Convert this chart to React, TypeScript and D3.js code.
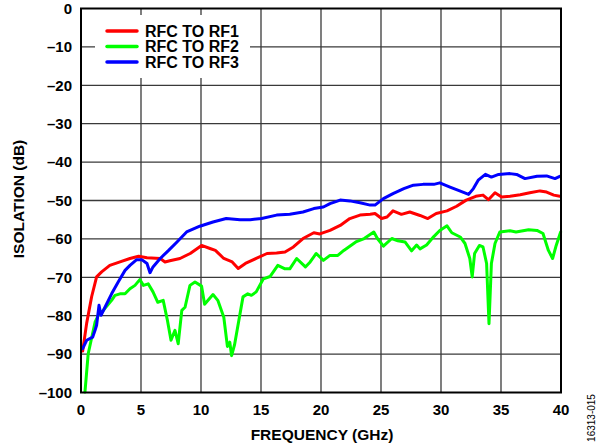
import * as d3 from "d3";

// frequency (GHz), isolation (dB)
const rf1: [number, number][] = [
  [0.14, -89.2], [0.47, -82], [0.89, -75], [1.3, -69.9], [1.72, -68.6], [2.4, -66.9], [3.25, -66],
  [4.08, -65.1], [4.8, -64.5], [5.5, -64.9], [6.6, -65.1], [7, -66], [7.4, -65.7], [8.25, -65.1],
  [9.1, -63.8], [10.05, -61.7], [10.75, -62.5], [11.2, -63], [11.9, -65.1], [12.6, -66], [13.1, -67.7],
  [13.7, -66.4], [14.6, -65.1], [15.5, -63.8], [16.3, -63.7], [17, -63.4], [17.7, -62.1], [18.5, -59.9],
  [19.4, -58.4], [19.9, -58.7], [20.75, -57.8], [21.6, -56.5], [22.4, -54.7], [23.25, -53.8],
  [24.1, -53.6], [24.5, -53.4], [25.05, -54.7], [25.5, -54.3], [26, -52.7], [26.7, -53.6], [27.4, -53],
  [28.25, -53.9], [28.9, -54.7], [29.6, -53.4], [30.5, -52.7], [31.3, -51.5], [32.1, -49.9],
  [32.9, -48.9], [33.5, -48.6], [33.95, -49.8], [34.5, -48], [35.05, -49.1], [35.75, -48.9],
  [36.6, -48.5], [37.4, -48], [38.25, -47.5], [38.8, -47.8], [39.4, -48.6], [39.9, -48.9],
];

const rf2: [number, number][] = [
  [0.33, -99.9], [0.6, -89.9], [0.9, -85.6], [1.17, -81.7], [1.44, -79.9], [1.86, -78.6], [2.55, -76],
  [2.83, -74.7], [3.25, -74.3], [3.67, -74.3], [4.08, -73], [4.5, -72.1], [4.9, -70.6], [5.2, -72.1],
  [5.6, -71.7], [6, -73.8], [6.4, -76.5], [6.85, -76], [7.2, -81.2], [7.5, -86.4], [7.83, -83.8],
  [8.1, -87.3], [8.4, -78.6], [8.67, -77.8], [9.08, -72.1], [9.5, -71.2], [10.05, -72.3], [10.3, -77],
  [11, -74.5], [11.4, -76], [11.9, -80.4], [12.2, -88], [12.4, -86.9], [12.55, -90.4], [12.8, -87.5],
  [13.5, -75.1], [13.9, -74.3], [14.2, -74.7], [14.6, -73.8], [15.2, -70.4], [15.75, -69.8],
  [16.4, -66.9], [17, -67.8], [17.4, -67.8], [17.97, -65.1], [18.7, -67.3], [19.1, -66], [19.6, -63.8],
  [20.2, -65.6], [20.75, -64.3], [21.4, -64.3], [21.9, -63], [22.9, -60.8], [23.6, -59.9],
  [24.4, -58.2], [24.7, -59.9], [25.2, -61.9], [25.9, -59.9], [26.4, -60.5], [27, -60.8],
  [27.55, -63.1], [27.97, -61.6], [28.25, -62.6], [28.8, -61.6], [29.4, -59.4], [29.9, -57.8],
  [30.5, -56.6], [30.9, -58.4], [31.6, -59.5], [32, -61.2], [32.4, -65.1], [32.6, -69.9], [32.8, -63.8],
  [33.2, -61.7], [33.5, -62.1], [33.8, -66.4], [34, -82.1], [34.2, -66.4], [34.5, -61.2], [34.9, -58.2],
  [35.75, -57.9], [36.25, -58.2], [36.6, -58], [37.3, -57.6], [38, -57.8], [38.5, -58.6], [38.95, -63],
  [39.3, -65.1], [39.6, -61.7], [39.97, -58.2],
];

const rf3: [number, number][] = [
  [0.14, -88.6], [0.47, -86.4], [0.97, -85.6], [1.17, -83.8], [1.3, -82.5], [1.5, -77.3], [1.67, -79.9],
  [2, -77.8], [2.55, -74.3], [3.1, -71.2], [3.67, -68.2], [4.08, -66.9], [4.64, -65.4], [5.06, -65.4],
  [5.5, -66.4], [5.75, -68.8], [6, -67.3], [6.6, -65.1], [7.3, -63], [8, -60.8], [8.8, -58.2],
  [9.9, -56.7], [11, -55.6], [12.1, -54.7], [13.25, -55], [14.1, -55], [15.05, -54.7], [16.3, -53.8],
  [17.4, -53.6], [18.5, -53], [19.4, -52.1], [20.2, -51.7], [20.75, -50.8], [21.6, -49.9], [22.4, -50.1],
  [23.25, -50.6], [24.1, -51.2], [24.5, -51.2], [25.2, -49.5], [26, -48.2], [26.9, -46.9], [27.7, -46],
  [28.5, -45.8], [29.4, -45.8], [29.9, -45.4], [30.75, -46.5], [31.4, -47.3], [32.3, -48.4],
  [32.7, -46.9], [33.1, -44.7], [33.7, -43.2], [34.2, -43.9], [34.8, -43.2], [35.75, -43], [36.3, -43.2],
  [37, -44.3], [38, -43.7], [38.8, -43.6], [39.5, -44.3], [39.9, -43.7],
];

const xTicks = [0, 5, 10, 15, 20, 25, 30, 35, 40];
const yTicks = [0, -10, -20, -30, -40, -50, -60, -70, -80, -90, -100];

const series = [
  { name: "RFC TO RF1", data: rf1, color: "#ff0000" },
  { name: "RFC TO RF2", data: rf2, color: "#00ff00" },
  { name: "RFC TO RF3", data: rf3, color: "#0000ff" },
];

const W = 600;
const H = 448;
const plot = { left: 81, right: 561, top: 8.5, bottom: 392.5 };
const font = "'Liberation Sans', Arial, sans-serif";
const fmt = (v: number) => (v < 0 ? "\u2013" + Math.abs(v) : String(v));

export default function App() {
  const x = d3.scaleLinear().domain([0, 40]).range([plot.left, plot.right]);
  const y = d3.scaleLinear().domain([-100, 0]).range([plot.bottom, plot.top]);
  const line = d3
    .line<[number, number]>()
    .x((d) => x(d[0]))
    .y((d) => y(d[1]));

  return (
    <svg
      width={W}
      height={H}
      style={{ position: "absolute", left: 0, top: 0, background: "#fff" }}
      fontFamily={font}
    >
      <rect x={0} y={0} width={W} height={H} fill="#fff" />
      {/* grid */}
      <g stroke="#3a3a3a" strokeWidth={1.3}>
        {xTicks.slice(1, -1).map((t) => (
          <line key={"gx" + t} x1={x(t)} x2={x(t)} y1={plot.top} y2={plot.bottom} />
        ))}
        {yTicks.slice(1, -1).map((t) => (
          <line key={"gy" + t} x1={plot.left} x2={plot.right} y1={y(t)} y2={y(t)} />
        ))}
      </g>

      {/* legend box covers the grid */}
      <rect x={95} y={15} width={155} height={63} fill="#fff" />
      {series.map((s, i) => (
        <g key={s.name}>
          <line x1={107} x2={137} y1={31 + i * 15.5} y2={31 + i * 15.5} stroke={s.color} strokeWidth={3.5} strokeLinecap="round" />
          <text x={145} y={31 + i * 15.5} dy="0.36em" fontSize={16} fontWeight="bold" fill="#000">
            {s.name}
          </text>
        </g>
      ))}

      {/* curves */}
      {series.map((s) => (
        <path
          key={s.name}
          d={line(s.data) ?? ""}
          fill="none"
          stroke={s.color}
          strokeWidth={3}
          strokeLinejoin="round"
          strokeLinecap="round"
        />
      ))}

      {/* frame */}
      <rect
        x={plot.left}
        y={plot.top}
        width={plot.right - plot.left}
        height={plot.bottom - plot.top}
        fill="none"
        stroke="#000"
        strokeWidth={2}
      />

      {/* tick labels */}
      <g fontSize={15} fontWeight="bold" fill="#000">
        {xTicks.map((t) => (
          <text key={"tx" + t} x={x(t)} y={415} textAnchor="middle">
            {fmt(t)}
          </text>
        ))}
        {yTicks.map((t) => (
          <text key={"ty" + t} x={72} y={y(t)} dy="0.35em" textAnchor="end">
            {fmt(t)}
          </text>
        ))}
      </g>

      {/* axis titles */}
      <text x={322} y={440} textAnchor="middle" fontSize={15.5} fontWeight="bold">
        FREQUENCY (GHz)
      </text>
      <text
        transform="translate(24,199) rotate(-90)"
        textAnchor="middle"
        fontSize={15.5}
        fontWeight="bold"
      >
        ISOLATION (dB)
      </text>
      <text transform="translate(595,418) rotate(-90)" textAnchor="middle" fontSize={10}>
        16313-015
      </text>
    </svg>
  );
}
